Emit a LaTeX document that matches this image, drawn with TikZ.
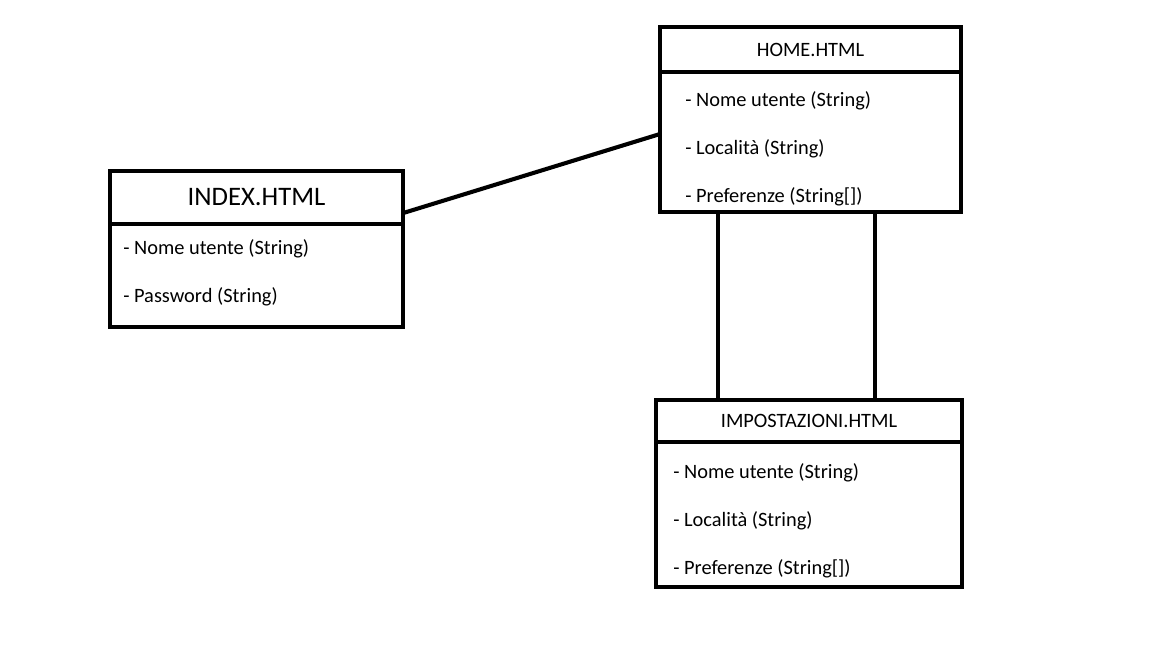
\documentclass[tikz,border=0pt]{standalone}
\usepackage{fontspec}
\setmainfont{Carlito}
\usetikzlibrary{positioning}

\tikzset{
  thickline/.style={line width=2.9pt},
  head/.style={draw, thickline, inner sep=0pt, outer sep=0pt, font=\fontsize{14.5}{17}\selectfont},
  body/.style={draw, thickline, inner sep=0pt, outer sep=0pt},
  item/.style={anchor=west, inner sep=0pt, font=\fontsize{14.5}{17}\selectfont}
}

\begin{document}
\begin{tikzpicture}[x=0.025cm, y=-0.025cm]
    \useasboundingbox (0,0) rectangle (1152,648);

    % INDEX.HTML
    \node[head, minimum width=7.325cm, minimum height=1.325cm, font=\fontsize{19}{22}\selectfont]
      (indexhead) at (256.5,197.5) {INDEX.HTML};
    \node[body, minimum width=7.325cm, minimum height=2.575cm, below=0pt of indexhead] (indexbody) {};
    \node[item] (index1) at (123,249) {- Nome utente (String)};
    \node[item] (index2) at (123,297) {- Password (String)};

    % HOME.HTML
    \node[head, minimum width=7.525cm, minimum height=1.125cm] (homehead) at (810.5,49.5) {HOME.HTML};
    \node[body, minimum width=7.525cm, minimum height=3.5cm, below=0pt of homehead] (homebody) {};
    \foreach \txt [count=\i] in {{Nome utente (String)}, {Località (String)}, {Preferenze (String[])}} {
      \node[item] (home\i) at (685,{53+48*\i}) {- \txt};
    }

    % IMPOSTAZIONI.HTML
    \node[head, minimum width=7.65cm, minimum height=1.05cm] (imphead) at (809,421) {IMPOSTAZIONI.HTML};
    \node[body, minimum width=7.65cm, minimum height=3.625cm, below=0pt of imphead] (impbody) {};
    \foreach \txt [count=\i] in {{Nome utente (String)}, {Località (String)}, {Preferenze (String[])}} {
      \node[item] (imp\i) at (673,{425+48*\i}) {- \txt};
    }

    % Links
    \draw[thickline] ([yshift=-0.39cm]indexhead.east) -- ([yshift=0.2cm]homebody.west);
    \draw[thickline] ([xshift=-2.31cm]homebody.south) -- ([xshift=-2.31cm]homebody.south |- imphead.north);
    \draw[thickline] ([xshift=1.61cm]homebody.south) -- ([xshift=1.61cm]homebody.south |- imphead.north);
\end{tikzpicture}
\end{document}
